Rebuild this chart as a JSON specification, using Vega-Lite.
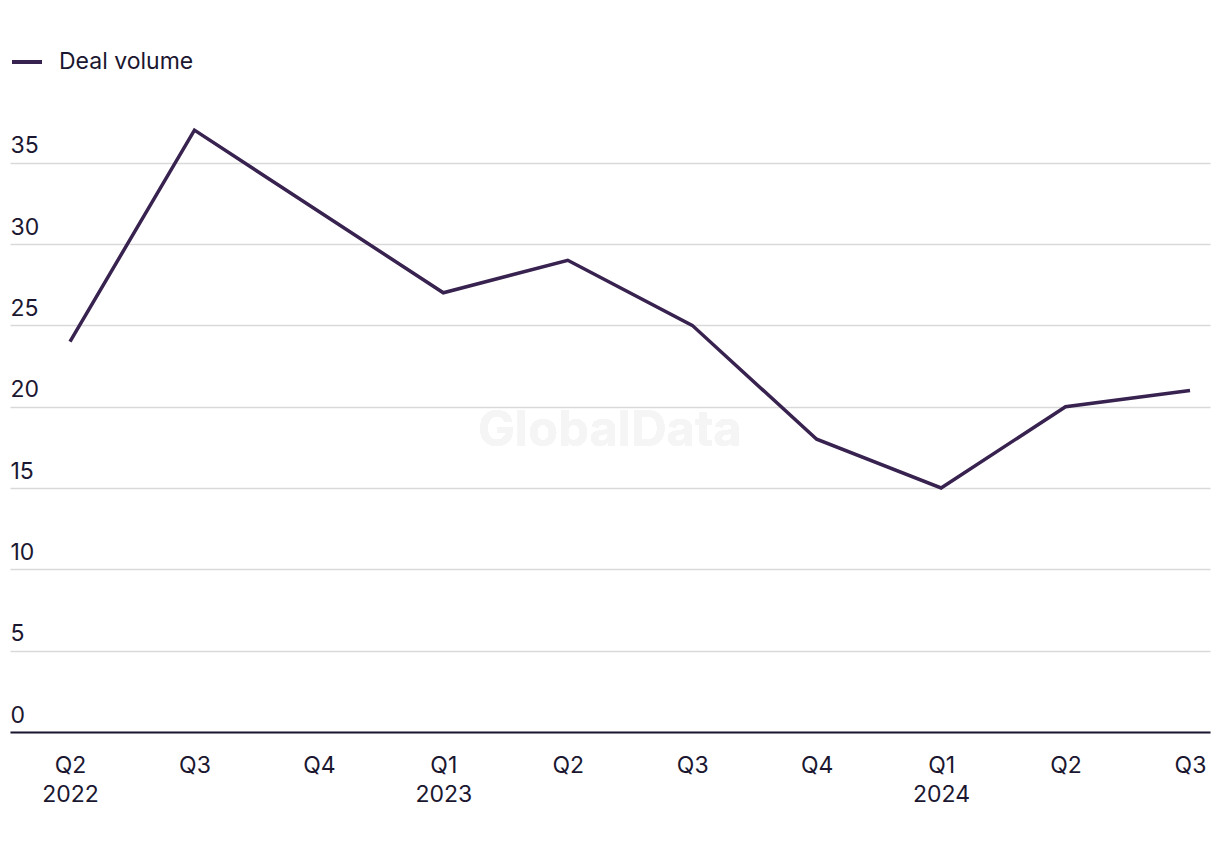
{
  "$schema": "https://vega.github.io/schema/vega-lite/v6.json",
  "autosize": "none",
  "padding": {"left": 10, "top": 122, "right": 10, "bottom": 120},
  "width": 1200,
  "height": 610,
  "background": "white",
  "config": {
    "view": {"stroke": null},
    "font": "Inter",
    "text": {"font": "Inter"}
  },
  "data": {
    "values": [
      {"q": "Q2 2022", "series": "Deal volume", "v": 24},
      {"q": "Q3 2022", "series": "Deal volume", "v": 37},
      {"q": "Q4 2022", "series": "Deal volume", "v": 32},
      {"q": "Q1 2023", "series": "Deal volume", "v": 27},
      {"q": "Q2 2023", "series": "Deal volume", "v": 29},
      {"q": "Q3 2023", "series": "Deal volume", "v": 25},
      {"q": "Q4 2023", "series": "Deal volume", "v": 18},
      {"q": "Q1 2024", "series": "Deal volume", "v": 15},
      {"q": "Q2 2024", "series": "Deal volume", "v": 20},
      {"q": "Q3 2024", "series": "Deal volume", "v": 21}
    ]
  },
  "layer": [
    {
      "mark": {"type": "line", "strokeWidth": 3.5, "strokeJoin": "miter"},
      "encoding": {
        "x": {
          "field": "q", "type": "ordinal", "sort": null,
          "scale": {"type": "point", "padding": 0.3214, "align": 0.75,
            "domain": ["Q2 2022", "Q3 2022", "Q4 2022", "Q1 2023", "Q2 2023", "Q3 2023", "Q4 2023", "Q1 2024", "Q2 2024", "Q3 2024"]},
          "axis": {
            "title": null,
            "grid": false,
            "ticks": false,
            "tickSize": 0,
            "domain": true,
            "domainColor": "#1b1730",
            "domainWidth": 2,
            "labelFont": "Inter",
            "labelFontSize": 23,
            "labelColor": "#1b1730",
            "labelPadding": 22,
            "labelAlign": "center",
            "labelBaseline": "top",
            "labelLineHeight": 29,
            "labelAngle": 0,
            "labelExpr": "(datum.label == 'Q2 2022' || indexof(datum.label, 'Q1') == 0) ? split(datum.label, ' ') : split(datum.label, ' ')[0]"
          }
        },
        "y": {
          "field": "v", "type": "quantitative",
          "scale": {"domain": [0, 37.5], "nice": false, "zero": true},
          "axis": {
            "title": null,
            "values": [0, 5, 10, 15, 20, 25, 30, 35],
            "grid": true,
            "gridColor": "#d9d9d9",
            "gridWidth": 1.5,
            "domain": false,
            "ticks": false,
            "tickSize": 0,
            "labelFont": "Inter",
            "labelFontSize": 23,
            "labelColor": "#1b1730",
            "labelAlign": "left",
            "labelBaseline": "alphabetic",
            "labelPadding": 0,
            "labelOffset": -10
          }
        },
        "color": {
          "field": "series", "type": "nominal",
          "scale": {"range": ["#38224f"]},
          "legend": {
            "title": null,
            "orient": "none",
            "legendX": 0,
            "legendY": -77,
            "padding": 0,
            "symbolType": "stroke",
            "symbolSize": 900,
            "symbolStrokeWidth": 4,
            "labelFont": "Inter",
            "labelFontSize": 23,
            "labelColor": "#1b1730",
            "labelOffset": 15
          }
        }
      }
    },
    {
      "mark": {"type": "text", "text": "GlobalData", "font": "Inter", "fontWeight": "bold", "fontSize": 49, "color": "#f5f5f5", "dx": 42, "align": "center", "baseline": "middle"},
      "encoding": {
        "x": {"datum": "Q2 2023", "type": "ordinal"},
        "y": {"datum": 18.5, "type": "quantitative"}
      }
    }
  ]
}
